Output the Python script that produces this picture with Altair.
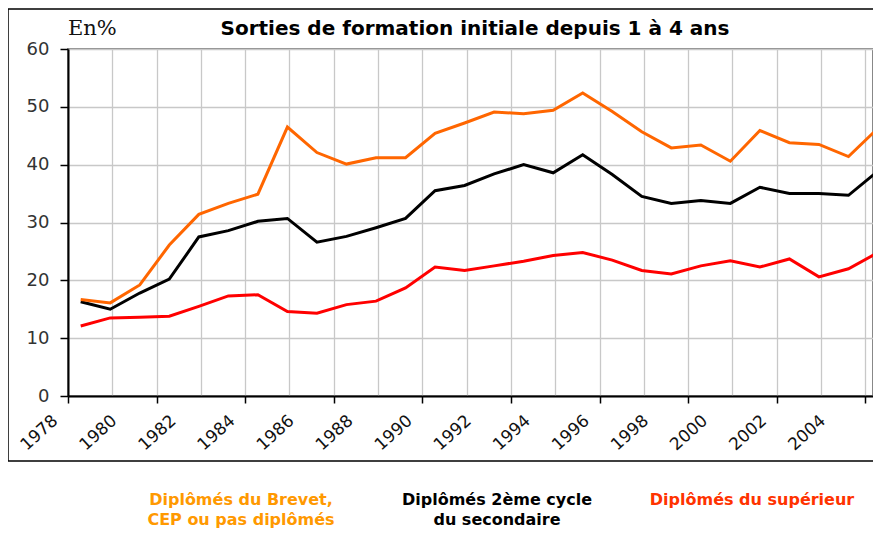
import altair as alt
import pandas as pd

# ---- data ----
years = list(range(1978, 2006))
brevet = [16.7, 16.1, 19.2, 26.1, 31.4, 33.3, 34.9, 46.5, 42.1, 40.1, 41.2, 41.2, 45.4, 47.2,
          49.1, 48.8, 49.4, 52.4, 49.2, 45.7, 42.9, 43.4, 40.6, 45.9, 43.8, 43.5, 41.4, 46.3]
second_cycle = [16.3, 15.0, 17.8, 20.2, 27.5, 28.6, 30.2, 30.7, 26.6, 27.6, 29.1, 30.7, 35.5, 36.4,
                38.4, 40.0, 38.6, 41.7, 38.3, 34.5, 33.3, 33.8, 33.3, 36.1, 35.0, 35.0, 34.7, 38.9]
superieur = [12.1, 13.5, 13.6, 13.8, 15.5, 17.3, 17.5, 14.6, 14.3, 15.8, 16.4, 18.7, 22.3, 21.7,
             22.5, 23.3, 24.3, 24.8, 23.5, 21.7, 21.1, 22.5, 23.4, 22.3, 23.7, 20.6, 22.0, 24.8]

series_names = ["Diplômés du supérieur", "Diplômés 2ème cycle du secondaire",
                "Diplômés du Brevet, CEP ou pas diplômés"]
series_values = [superieur, second_cycle, brevet]
line_colors = ["#FF0000", "#000000", "#FF6600"]

y_ticks = [0, 10, 20, 30, 40, 50, 60]
label_years = list(range(1978, 2005, 2))
grid_positions = [1978 + 1.5 * k for k in range(19)]

title_text = "Sorties de formation initiale depuis 1 à 4 ans"
unit_text = "En%"
legend_texts = ["Diplômés du Brevet,\nCEP ou pas diplômés",
                "Diplômés 2ème cycle\ndu secondaire",
                "Diplômés du supérieur"]
legend_colors = ["#FF9900", "#000000", "#FF3300"]

# ---- chart ----
W, H = 805, 347
x_values = sorted(set(grid_positions) | set(float(v) for v in label_years))

x_axis = alt.Axis(
    values=x_values, title=None,
    grid=True,
    gridOpacity={"condition": {"test": "abs((datum.value - 1978) % 1.5) < 0.01", "value": 1}, "value": 0},
    gridColor="#c8c8c8", gridWidth=1.3,
    ticks=True, tickSize=7, tickColor="#000000", tickWidth=1.5,
    tickOpacity={"condition": {"test": "abs((datum.value - 1978) % 3) < 0.01", "value": 1}, "value": 0},
    labelExpr="abs((datum.value - 1978) % 2) < 0.01 && datum.value < 2005 ? format(datum.value, 'd') : ''",
    labelAngle=-42, labelAlign="right", labelBaseline="middle",
    labelFont="DejaVu Sans", labelFontSize=17, labelColor="#111111",
    labelPadding=15, labelOffset=-13, labelOverlap=False, labelFlush=False, labelBound=False,
    domainColor="#000000", domainWidth=2,
)
y_axis = alt.Axis(
    values=y_ticks, title=None, grid=True, gridColor="#c8c8c8", gridWidth=1.3,
    tickSize=8, tickColor="#000000", tickWidth=1.5,
    labelFont="DejaVu Sans", labelFontSize=18, labelColor="#333333", labelPadding=11,
    domainColor="#000000", domainWidth=2,
)
x_scale = alt.Scale(domain=[1978, 1978 + W / 29.53], nice=False, zero=False)
y_scale = alt.Scale(domain=[0, 60], nice=False)

layers = []
one = pd.DataFrame({"a": [0]})

frame = alt.Chart(one).mark_rect(filled=False, stroke="#000000", strokeWidth=1.5).encode(
    x=alt.value(-60), x2=alt.value(900), y=alt.value(-40), y2=alt.value(412))
layers.append(frame)

for name, vals, col in zip(series_names, series_values, line_colors):
    df = pd.DataFrame({"year": years, "value": vals, "serie": name})
    ln = alt.Chart(df).transform_calculate(pos="datum.year + 0.43").mark_line(
        color=col, strokeWidth=3).encode(
        x=alt.X("pos:Q", scale=x_scale, axis=x_axis),
        y=alt.Y("value:Q", scale=y_scale, axis=y_axis),
    )
    layers.append(ln)

title = alt.Chart(one).mark_text(
    text=title_text, font="DejaVu Sans", fontSize=20, fontWeight="bold",
    color="#000000", align="center", baseline="middle").encode(
    x=alt.value(407), y=alt.value(-20))
layers.append(title)

unit = alt.Chart(one).mark_text(
    text=unit_text, font="DejaVu Serif", fontSize=21, color="#111111",
    align="left", baseline="middle").encode(x=alt.value(0), y=alt.value(-20))
layers.append(unit)

legend_x = [173, 429, 684]
for txt, col, lx in zip(legend_texts, legend_colors, legend_x):
    t = alt.Chart(one).mark_text(
        text=txt, lineBreak="\n", lineHeight=20, font="DejaVu Sans", fontSize=16,
        fontWeight="bold", color=col, align="center", baseline="top").encode(
        x=alt.value(lx), y=alt.value(443))
    layers.append(t)

chart = alt.layer(*layers).properties(
    width=W, height=H,
    autosize=alt.AutoSizeParams(type="none"),
    padding={"left": 60, "top": 41, "right": 0, "bottom": 134},
).configure_view(stroke="#888888", strokeWidth=2)

chart.save("out.html", embed_options={"renderer": "svg", "actions": False})
